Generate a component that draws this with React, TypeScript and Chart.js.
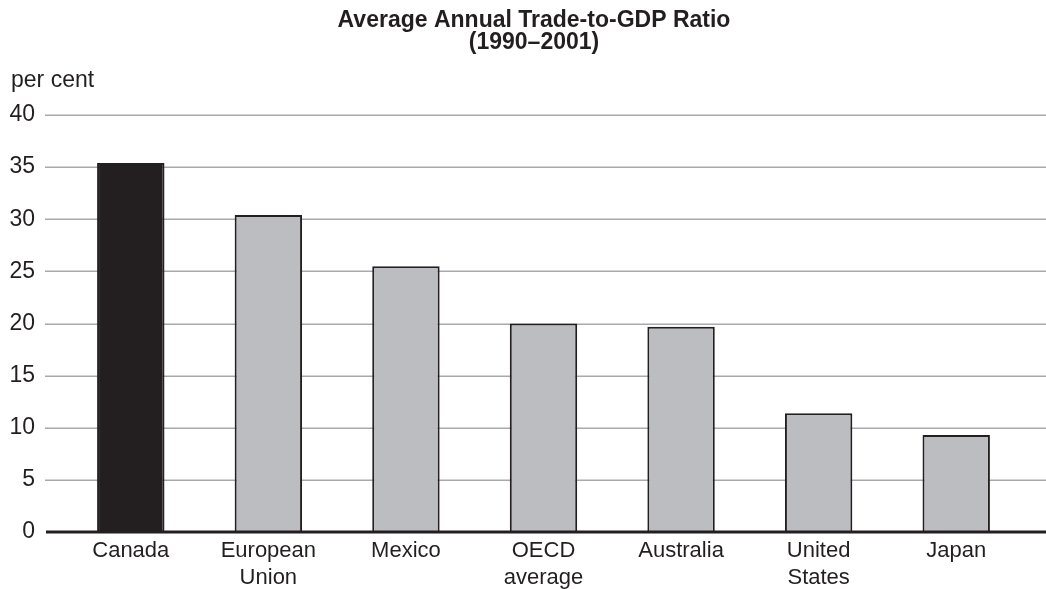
import React, { useEffect, useRef } from "react";
import { Chart, registerables } from "chart.js";

Chart.register(...registerables);

const titleLines = ["Average Annual Trade-to-GDP Ratio", "(1990–2001)"];
const unitLabel = "per cent";
const categories: string[][] = [
  ["Canada"],
  ["European", "Union"],
  ["Mexico"],
  ["OECD", "average"],
  ["Australia"],
  ["United", "States"],
  ["Japan"],
];
const values = [35.4, 30.4, 25.5, 20.0, 19.7, 11.4, 9.3];
const highlighted = ["Canada"];
const yMin = 0;
const yMax = 40;
const yStep = 5;

const INK = "#231f20";
const GREY = "#bcbdc0";
const GRID = "#a7a9ac";
const FONT = "'Liberation Sans', Arial, Helvetica, sans-serif";

const decorPlugin = {
  id: "decor",
  beforeDatasetsDraw(chart: any) {
    const { ctx, scales } = chart;
    const y = scales.y;
    const left = chart.chartArea.left - 17;
    ctx.save();
    ctx.strokeStyle = GRID;
    ctx.lineWidth = 1.5;
    y.ticks.forEach((t: any) => {
      if (t.value === yMin) return;
      const py = Math.round(y.getPixelForValue(t.value)) + 0.25;
      ctx.beginPath();
      ctx.moveTo(left, py);
      ctx.lineTo(chart.width, py);
      ctx.stroke();
    });
    // unit label
    ctx.fillStyle = INK;
    ctx.font = `23px ${FONT}`;
    ctx.textAlign = "left";
    ctx.textBaseline = "alphabetic";
    ctx.fillText(unitLabel, 11, y.getPixelForValue(yMax) - 28);
    // title
    ctx.font = `bold 23px ${FONT}`;
    ctx.textAlign = "center";
    ctx.textBaseline = "middle";
    const cx = chart.width / 2 + 11;
    titleLines.forEach((line, i) => {
      ctx.fillText(line, cx, 21 + i * 22);
    });
    ctx.restore();
  },
  afterDatasetsDraw(chart: any) {
    const { ctx, scales } = chart;
    const y = scales.y;
    const py = y.getPixelForValue(yMin);
    ctx.save();
    ctx.strokeStyle = INK;
    ctx.lineWidth = 3;
    ctx.beginPath();
    ctx.moveTo(chart.chartArea.left - 16, py);
    ctx.lineTo(chart.width, py);
    ctx.stroke();
    ctx.restore();
  },
};

export default function App() {
  const ref = useRef<HTMLCanvasElement | null>(null);
  useEffect(() => {
    if (!ref.current) return;
    const chart = new Chart(ref.current, {
      type: "bar",
      data: {
        labels: categories,
        datasets: [
          {
            data: values,
            backgroundColor: categories.map((c) =>
              highlighted.includes(c.join(" ")) ? INK : GREY
            ),
            borderColor: INK,
            borderWidth: 2,
            borderSkipped: "bottom",
            barPercentage: 0.49,
            categoryPercentage: 1,
          },
        ],
      },
      options: {
        animation: false,
        responsive: true,
        maintainAspectRatio: false,
        layout: { padding: { left: 0, right: 21, top: 115, bottom: 0 } },
        plugins: {
          legend: { display: false },
          tooltip: { enabled: false },
          title: { display: false },
        },
        scales: {
          x: {
            grid: { display: false, drawTicks: false },
            border: { display: false },
            ticks: {
              color: INK,
              font: { family: FONT, size: 22, lineHeight: 1.25 },
              padding: 5,
              maxRotation: 0,
              autoSkip: false,
            },
            afterFit: (s: any) => {
              s.height = 57;
            },
          },
          y: {
            min: yMin,
            max: yMax,
            grid: { display: false, drawTicks: false },
            border: { display: false },
            ticks: {
              stepSize: yStep,
              color: INK,
              font: { family: FONT, size: 23 },
              padding: 27,
            },
            afterFit: (s: any) => {
              s.width = 62;
            },
          },
        },
      },
      plugins: [decorPlugin],
    } as any);
    return () => chart.destroy();
  }, []);
  return (
    <div
      style={{
        position: "fixed",
        left: 0,
        top: 0,
        width: 1046,
        height: 589,
        background: "#fff",
      }}
    >
      <canvas ref={ref} />
    </div>
  );
}
